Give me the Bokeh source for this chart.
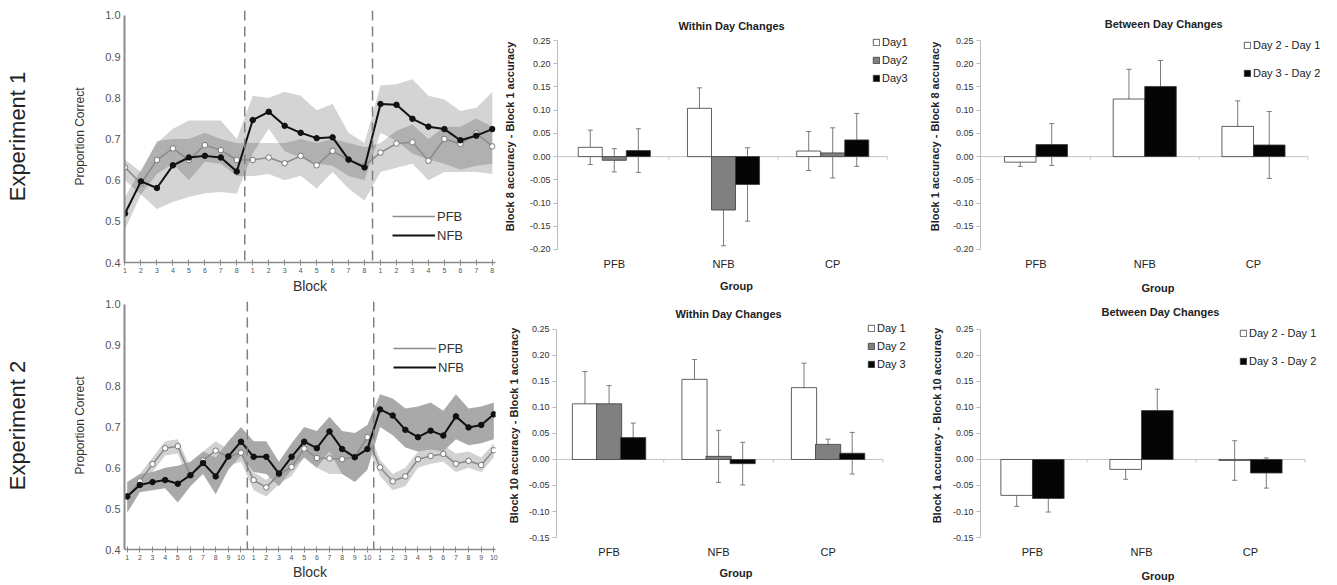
import numpy as np
from bokeh.plotting import figure
from bokeh.models import (ColumnDataSource, Range1d, FixedTicker, LinearAxis, Span, Label,
                          Legend, LegendItem, Whisker, TeeHead, NumeralTickFormatter)
from bokeh.layouts import row, column
from bokeh.embed import file_html
from bokeh.resources import INLINE

FONT = "Liberation Sans"

# ---------------- data: line charts ----------------
blocks_per_day_1 = 8
blocks_per_day_2 = 10
line_yticks = [0.4, 0.5, 0.6, 0.7, 0.8, 0.9, 1.0]

exp1_nfb = [0.519, 0.597, 0.581, 0.636, 0.655, 0.659, 0.655, 0.621,
            0.746, 0.766, 0.732, 0.715, 0.702, 0.704, 0.650, 0.631,
            0.785, 0.783, 0.749, 0.730, 0.724, 0.697, 0.708, 0.724]
exp1_nfb_lo = [0.48, 0.565, 0.53, 0.547, 0.559, 0.568, 0.571, 0.567,
               0.665, 0.725, 0.67, 0.655, 0.64, 0.635, 0.61, 0.60,
               0.715, 0.695, 0.665, 0.65, 0.64, 0.625, 0.635, 0.64]
exp1_nfb_hi = [0.56, 0.625, 0.69, 0.725, 0.745, 0.745, 0.745, 0.70,
               0.805, 0.80, 0.815, 0.805, 0.77, 0.785, 0.715, 0.69,
               0.83, 0.833, 0.845, 0.805, 0.796, 0.768, 0.776, 0.814]
exp1_pfb = [0.631, 0.592, 0.649, 0.677, 0.649, 0.685, 0.673, 0.649,
            0.649, 0.655, 0.641, 0.659, 0.636, 0.671, 0.649, 0.635,
            0.667, 0.689, 0.692, 0.647, 0.700, 0.688, 0.714, 0.682]
exp1_pfb_lo = [0.60, 0.565, 0.615, 0.64, 0.60, 0.645, 0.64, 0.61,
               0.61, 0.615, 0.60, 0.611, 0.58, 0.62, 0.58, 0.55,
               0.62, 0.63, 0.64, 0.60, 0.62, 0.62, 0.62, 0.615]
exp1_pfb_hi = [0.65, 0.62, 0.695, 0.70, 0.70, 0.715, 0.70, 0.69,
               0.69, 0.69, 0.69, 0.70, 0.69, 0.70, 0.69, 0.68,
               0.69, 0.72, 0.735, 0.70, 0.73, 0.73, 0.75, 0.73]

exp2_nfb = [0.530, 0.558, 0.565, 0.570, 0.561, 0.582, 0.612, 0.579, 0.628, 0.664,
            0.627, 0.627, 0.586, 0.627, 0.664, 0.648, 0.689, 0.646, 0.626, 0.646,
            0.743, 0.728, 0.693, 0.675, 0.691, 0.679, 0.726, 0.699, 0.705, 0.731]
exp2_nfb_lo = [0.49, 0.54, 0.545, 0.55, 0.515, 0.555, 0.585, 0.535, 0.595, 0.63,
               0.59, 0.585, 0.555, 0.595, 0.625, 0.60, 0.64, 0.585, 0.565, 0.595,
               0.70, 0.68, 0.65, 0.64, 0.645, 0.64, 0.67, 0.655, 0.66, 0.67]
exp2_nfb_hi = [0.565, 0.585, 0.59, 0.60, 0.605, 0.615, 0.64, 0.625, 0.665, 0.70,
               0.665, 0.665, 0.615, 0.66, 0.70, 0.69, 0.725, 0.69, 0.685, 0.705,
               0.78, 0.77, 0.745, 0.75, 0.76, 0.74, 0.78, 0.745, 0.75, 0.76]
exp2_pfb = [0.530, 0.567, 0.609, 0.648, 0.653, 0.581, 0.618, 0.642, 0.627, 0.637,
            0.570, 0.552, 0.584, 0.602, 0.647, 0.624, 0.623, 0.621, 0.626, 0.675,
            0.601, 0.567, 0.579, 0.621, 0.629, 0.634, 0.610, 0.617, 0.607, 0.643]
exp2_pfb_lo = [0.50, 0.545, 0.59, 0.63, 0.635, 0.56, 0.595, 0.62, 0.605, 0.615,
               0.545, 0.53, 0.56, 0.58, 0.625, 0.60, 0.585, 0.585, 0.605, 0.655,
               0.58, 0.545, 0.555, 0.60, 0.61, 0.615, 0.59, 0.60, 0.59, 0.625]
exp2_pfb_hi = [0.55, 0.585, 0.625, 0.665, 0.67, 0.60, 0.64, 0.665, 0.645, 0.655,
               0.59, 0.57, 0.60, 0.62, 0.665, 0.645, 0.655, 0.64, 0.645, 0.695,
               0.62, 0.585, 0.60, 0.64, 0.65, 0.655, 0.635, 0.64, 0.625, 0.66]

# ---------------- data: bar charts ----------------
groups = ["PFB", "NFB", "CP"]
bar_yticks_1 = [-0.20, -0.15, -0.10, -0.05, 0.00, 0.05, 0.10, 0.15, 0.20, 0.25]
bar_yticks_2 = [-0.15, -0.10, -0.05, 0.00, 0.05, 0.10, 0.15, 0.20, 0.25]

e1_within_day1 = [0.020, 0.104, 0.012]
e1_within_day1_err = [0.037, 0.044, 0.042]
e1_within_day2 = [-0.008, -0.115, 0.008]
e1_within_day2_err = [0.025, 0.077, 0.054]
e1_within_day3 = [0.013, -0.060, 0.036]
e1_within_day3_err = [0.047, 0.079, 0.057]

e1_between_d21 = [-0.012, 0.124, 0.065]
e1_between_d21_err = [0.009, 0.064, 0.055]
e1_between_d32 = [0.026, 0.151, 0.025]
e1_between_d32_err = [0.045, 0.056, 0.072]

e2_within_day1 = [0.107, 0.154, 0.138]
e2_within_day1_err = [0.062, 0.038, 0.047]
e2_within_day2 = [0.107, 0.006, 0.029]
e2_within_day2_err = [0.035, 0.050, 0.010]
e2_within_day3 = [0.042, -0.008, 0.012]
e2_within_day3_err = [0.028, 0.041, 0.040]

e2_between_d21 = [-0.069, -0.019, -0.002]
e2_between_d21_err = [0.021, 0.019, 0.038]
e2_between_d32 = [-0.075, 0.094, -0.026]
e2_between_d32_err = [0.026, 0.041, 0.029]


def line_panel(per_day, nfb, nfb_lo, nfb_hi, pfb, pfb_lo, pfb_hi, exp_label,
               w, h, bl, br, bt, bb, x0, x1, ytop, two_tone, legend_xy, exp_standoff,
               block_standoff):
    n = len(nfb)
    x = list(range(1, n + 1))
    p = figure(width=w, height=h, x_range=Range1d(x0, x1), y_range=Range1d(0.4, ytop),
               output_backend="svg", toolbar_location=None, title=None,
               min_border_left=bl, min_border_right=br, min_border_top=bt, min_border_bottom=bb)
    p.outline_line_color = None
    p.grid.visible = False

    if two_tone:
        p.varea(x=x, y1=pfb_lo, y2=pfb_hi, fill_color="#d2d2d2")
        p.varea(x=x, y1=nfb_lo, y2=nfb_hi, fill_color="#a9a9a9")
    else:
        p.varea(x=x, y1=nfb_lo, y2=nfb_hi, fill_color="black", fill_alpha=0.17)
        p.varea(x=x, y1=pfb_lo, y2=pfb_hi, fill_color="black", fill_alpha=0.17)

    for k in (1, 2):
        p.add_layout(Span(location=k * per_day + 0.5, dimension="height",
                          line_color="#808080", line_dash="10 6", line_width=1.5))

    pl = p.line(x, pfb, line_color="#8c8c8c", line_width=1.6)
    p.scatter(x, pfb, size=5.5, fill_color="white", line_color="#777777", line_width=1)
    nl = p.line(x, nfb, line_color="#111111", line_width=2)
    p.scatter(x, nfb, size=5.5, fill_color="#111111", line_color="#111111")

    leg = Legend(items=[LegendItem(label="PFB", renderers=[pl]),
                        LegendItem(label="NFB", renderers=[nl])],
                 location=legend_xy, padding=0, margin=0, spacing=3,
                 glyph_width=43, glyph_height=16, label_height=16, label_standoff=2,
                 label_text_font=FONT, label_text_font_size="13px", label_text_color="#333333",
                 border_line_color=None, background_fill_alpha=0)
    p.add_layout(leg)

    xa = p.xaxis[0]
    xa.ticker = FixedTicker(ticks=x)
    xa.major_label_overrides = {i: str((i - 1) % per_day + 1) for i in x}
    xa.axis_line_color = "#8a8a8a"
    xa.axis_line_width = 1.5
    xa.major_tick_line_color = "#8a8a8a"
    xa.major_tick_in = 3
    xa.major_tick_out = 3
    xa.minor_tick_line_color = None
    xa.major_label_text_font = FONT
    xa.major_label_text_font_size = "7px"
    xa.major_label_text_color = "#555555"
    xa.major_label_standoff = 2
    xa.axis_label = "Block"
    xa.axis_label_text_font = FONT
    xa.axis_label_text_font_size = "14px"
    xa.axis_label_text_font_style = "normal"
    xa.axis_label_text_color = "#333333"
    xa.axis_label_standoff = block_standoff

    ya = p.yaxis[0]
    ya.bounds = (line_yticks[0], line_yticks[-1])
    ya.ticker = FixedTicker(ticks=line_yticks)
    ya.formatter = NumeralTickFormatter(format="0.0")
    ya.axis_line_color = "#8a8a8a"
    ya.axis_line_width = 2
    ya.major_tick_line_color = None
    ya.minor_tick_line_color = None
    ya.major_tick_out = 0
    ya.major_tick_in = 0
    ya.major_label_text_font = FONT
    ya.major_label_text_font_size = "11px"
    ya.major_label_text_color = "#555555"
    ya.major_label_standoff = 4
    ya.axis_label = "Proportion Correct"
    ya.axis_label_text_font = FONT
    ya.axis_label_text_font_size = "12px"
    ya.axis_label_text_font_style = "normal"
    ya.axis_label_text_color = "#333333"
    ya.axis_label_standoff = 15

    ea = LinearAxis(ticker=FixedTicker(ticks=[]), axis_label=exp_label,
                    axis_line_color=None, major_tick_line_color=None, minor_tick_line_color=None,
                    major_tick_out=0, major_tick_in=0, major_label_standoff=0,
                    axis_label_text_font=FONT, axis_label_text_font_size="22px",
                    axis_label_text_font_style="normal", axis_label_text_color="#222222",
                    axis_label_standoff=exp_standoff)
    p.add_layout(ea, "left")
    return p


def bar_panel(series, errs, colors, labels, offsets, bar_w, title, title_off, ylabel, yticks,
              w, h, bl, bt, bb, x0, x1, ybot, ytop, legend_xy, legend_spacing, ylab_standoff,
              lab_standoff, grp_standoff):
    ng = len(groups)
    idx = np.arange(ng) + 0.5
    p = figure(width=w, height=h, x_range=Range1d(x0, x1), y_range=Range1d(ybot, ytop),
               output_backend="svg", toolbar_location=None, title=None,
               min_border_left=bl, min_border_right=0, min_border_top=bt, min_border_bottom=bb)
    p.outline_line_color = None
    p.grid.visible = False

    p.line([x0, ng], [0, 0], line_color="#c4c4c4", line_width=1)
    bounds = np.arange(1, ng + 1)
    p.segment(x0=bounds, y0=[0] * ng, x1=bounds, y1=[-(yticks[-1] - yticks[0]) / 70] * ng,
              line_color="#c4c4c4", line_width=1)

    items = []
    for s, e, c, lab, off in zip(series, errs, colors, labels, offsets):
        s = np.array(s)
        e = np.array(e)
        src = ColumnDataSource(dict(x=idx + off, top=s, upper=s + e, lower=s - e))
        r = p.vbar(x="x", top="top", bottom=0, width=bar_w, fill_color=c,
                   line_color="#3a3a3a", line_width=0.8, source=src)
        p.add_layout(Whisker(source=src, base="x", upper="upper", lower="lower",
                             line_color="#7a7a7a", line_width=1,
                             upper_head=TeeHead(size=5, line_color="#7a7a7a", line_width=1),
                             lower_head=TeeHead(size=5, line_color="#7a7a7a", line_width=1)))
        items.append(LegendItem(label=lab, renderers=[r]))

    leg = Legend(items=items, location=legend_xy, padding=0, margin=0, spacing=legend_spacing,
                 glyph_width=8, glyph_height=8, label_height=12, label_standoff=2,
                 label_text_font=FONT, label_text_font_size="11px", label_text_color="#222222",
                 border_line_color=None, background_fill_alpha=0)
    p.add_layout(leg)

    p.add_layout(Label(x=ng / 2, y=yticks[-1], x_offset=title_off[0], y_offset=title_off[1],
                       text=title, text_align="center", text_baseline="middle",
                       text_font=FONT, text_font_size="11px", text_font_style="bold",
                       text_color="#222222"))

    xa = p.xaxis[0]
    xa.ticker = FixedTicker(ticks=list(idx))
    xa.major_label_overrides = {float(v): g for v, g in zip(idx, groups)}
    xa.axis_line_color = None
    xa.major_tick_line_color = None
    xa.minor_tick_line_color = None
    xa.major_tick_out = 0
    xa.major_tick_in = 0
    xa.major_label_text_font = FONT
    xa.major_label_text_font_size = "11px"
    xa.major_label_text_color = "#222222"
    xa.major_label_standoff = lab_standoff
    xa.axis_label = "Group"
    xa.axis_label_text_font = FONT
    xa.axis_label_text_font_size = "11px"
    xa.axis_label_text_font_style = "bold"
    xa.axis_label_text_color = "#222222"
    xa.axis_label_standoff = grp_standoff

    ya = p.yaxis[0]
    ya.bounds = (yticks[0], yticks[-1])
    ya.ticker = FixedTicker(ticks=yticks)
    ya.formatter = NumeralTickFormatter(format="0.00")
    ya.axis_line_color = "#bdbdbd"
    ya.major_tick_line_color = "#bdbdbd"
    ya.major_tick_out = 4
    ya.major_tick_in = 0
    ya.minor_tick_line_color = None
    ya.major_label_text_font = FONT
    ya.major_label_text_font_size = "9px"
    ya.major_label_text_color = "#333333"
    ya.major_label_standoff = 3
    ya.axis_label = ylabel
    ya.axis_label_text_font = FONT
    ya.axis_label_text_font_size = "11px"
    ya.axis_label_text_font_style = "bold"
    ya.axis_label_text_color = "#222222"
    ya.axis_label_standoff = ylab_standoff
    return p


within_colors = ["white", "#808080", "#050505"]
between_colors = ["white", "#050505"]
w_off = [-0.22, 0.0, 0.22]
b_off = [-0.145, 0.145]

H1, H2 = 298, 286
T1, B1 = 10, 36
T2, B2 = 3, 34
W1, W2, W3 = 500, 415, 420
L1, L2, L3 = 124, 56, 65

pA = line_panel(blocks_per_day_1, exp1_nfb, exp1_nfb_lo, exp1_nfb_hi, exp1_pfb, exp1_pfb_lo,
                exp1_pfb_hi, "Experiment 1", W1, H1, L1, 5, T1, B1, 0.97, 24.2, 1.0121, False,
                (268, 19), 41, 2)
pB = bar_panel([e1_within_day1, e1_within_day2, e1_within_day3],
               [e1_within_day1_err, e1_within_day2_err, e1_within_day3_err],
               within_colors, ["Day1", "Day2", "Day3"], w_off, 0.22, "Within Day Changes", (8, 15),
               "Block 8 accuracy - Block 1 accuracy", bar_yticks_1,
               W2, H1, L2, T1, B1, -0.02, 3.258, -0.228, 0.3146, (315, 178), 6, 11, -5, 7)
pC = bar_panel([e1_between_d21, e1_between_d32], [e1_between_d21_err, e1_between_d32_err],
               between_colors, ["Day 2 - Day 1", "Day 3 - Day 2"], b_off, 0.29,
               "Between Day Changes", (19, 17), "Block 1 accuracy - Block 8 accuracy", bar_yticks_1,
               W3, H1, L3, T1, B1, -0.01, 3.254, -0.228, 0.3146, (263, 183), 16, 9, -5, 9)

pD = line_panel(blocks_per_day_2, exp2_nfb, exp2_nfb_lo, exp2_nfb_hi, exp2_pfb, exp2_pfb_lo,
                exp2_pfb_hi, "Experiment 2", W1, H2, L1, 5, T2, B2, 0.786, 30.13, 1.0073, True,
                (269, 174), 41, 1)
pE = bar_panel([e2_within_day1, e2_within_day2, e2_within_day3],
               [e2_within_day1_err, e2_within_day2_err, e2_within_day3_err],
               within_colors, ["Day 1", "Day 2", "Day 3"], w_off, 0.23, "Within Day Changes", (10, 15),
               "Block 10 accuracy - Block 1 accuracy", bar_yticks_2,
               W2, H2, L2, T2, B2, 0.02, 3.298, -0.173, 0.3036, (311, 179), 6, 6, -4, 6)
pF = bar_panel([e2_between_d21, e2_between_d32], [e2_between_d21_err, e2_between_d32_err],
               between_colors, ["Day 2 - Day 1", "Day 3 - Day 2"], b_off, 0.29,
               "Between Day Changes", (19, 17), "Block 1 accuracy - Block 10 accuracy", bar_yticks_2,
               W3, H2, L3, T2, B2, 0.023, 3.28, -0.173, 0.3036, (259, 182), 16, 7, -4, 9)

layout = column(row(pA, pB, pC, spacing=0), row(pD, pE, pF, spacing=0), spacing=0)
open("out.html", "w").write(file_html(layout, INLINE))
